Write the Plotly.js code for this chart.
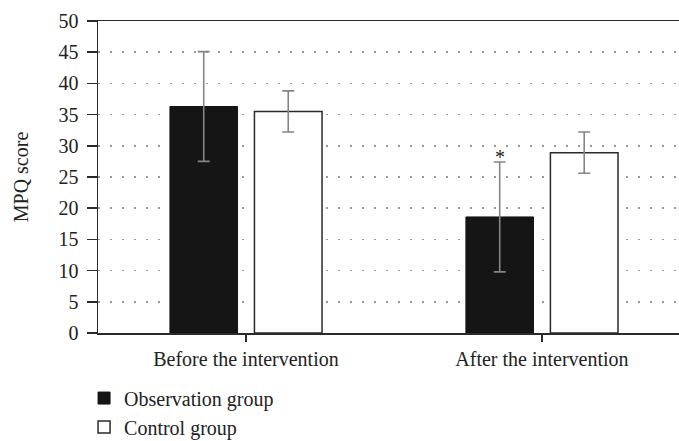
<!DOCTYPE html>
<html>
<head>
<meta charset="utf-8">
<script src="https://cdn.plot.ly/plotly-3.0.1.min.js"></script>
<style>html,body{margin:0;padding:0;background:#fff;}#chart{width:679px;height:441px;}</style>
</head>
<body>
<div id="chart"></div>
<script>
const categories = ["Before the intervention", "After the intervention"];
const observationMean = [36.3, 18.6];
const observationSD = [8.8, 8.8];
const controlMean = [35.5, 28.9];
const controlSD = [3.3, 3.3];
const seriesNames = ["Observation group", "Control group"];
const yTicks = [0, 5, 10, 15, 20, 25, 30, 35, 40, 45, 50];

const font = {family: "Liberation Serif, Times New Roman, serif", size: 20, color: "#222"};

const traces = [
  {
    type: "bar", name: seriesNames[0], x: categories, y: observationMean,
    marker: {color: "#151515", line: {color: "#151515", width: 1}},
    error_y: {type: "data", array: observationSD, visible: true, color: "#858585", thickness: 1.6, width: 6}
  },
  {
    type: "bar", name: seriesNames[1], x: categories, y: controlMean,
    marker: {color: "#ffffff", line: {color: "#2a2a2a", width: 1.5}},
    error_y: {type: "data", array: controlSD, visible: true, color: "#858585", thickness: 1.6, width: 6}
  }
];

const layout = {
  width: 679, height: 441,
  margin: {l: 98, r: 0, t: 21, b: 108, autoexpand: false},
  paper_bgcolor: "#fff", plot_bgcolor: "#fff",
  font: font,
  barmode: "group", bargap: 0.429, bargroupgap: 0.2,
  showlegend: true,
  legend: {
    x: -0.024, y: -0.146, xanchor: "left", yanchor: "top",
    orientation: "v", traceorder: "normal",
    font: font, bgcolor: "rgba(0,0,0,0)"
  },
  xaxis: {
    type: "category", range: [-0.5, 1.463],
    showline: true, linecolor: "#2a2a2a", linewidth: 1.5, mirror: true,
    ticks: "outside", ticklen: 7, tickcolor: "#2a2a2a", tickwidth: 1.5,
    showgrid: false, zeroline: false, tickfont: font
  },
  yaxis: {
    range: [0, 50], tickvals: yTicks,
    showline: true, linecolor: "#2a2a2a", linewidth: 1.5,
    ticks: "outside", ticklen: 10, tickcolor: "#2a2a2a", tickwidth: 1.5,
    ticklabelstandoff: 4,
    showgrid: true, gridcolor: "#999", gridwidth: 1.6, griddash: "1.6px,10.4px",
    zeroline: false, tickfont: font,
    title: {text: "MPQ score", font: font, standoff: 24}
  },
  annotations: [
    {x: categories[1], y: observationMean[1] + observationSD[1], yanchor: "bottom", xshift: -42, yshift: -8,
     text: "*", showarrow: false, font: {family: font.family, size: 20, color: "#222"}}
  ]
};

Plotly.newPlot("chart", traces, layout, {displayModeBar: false, staticPlot: true});
</script>
</body>
</html>
